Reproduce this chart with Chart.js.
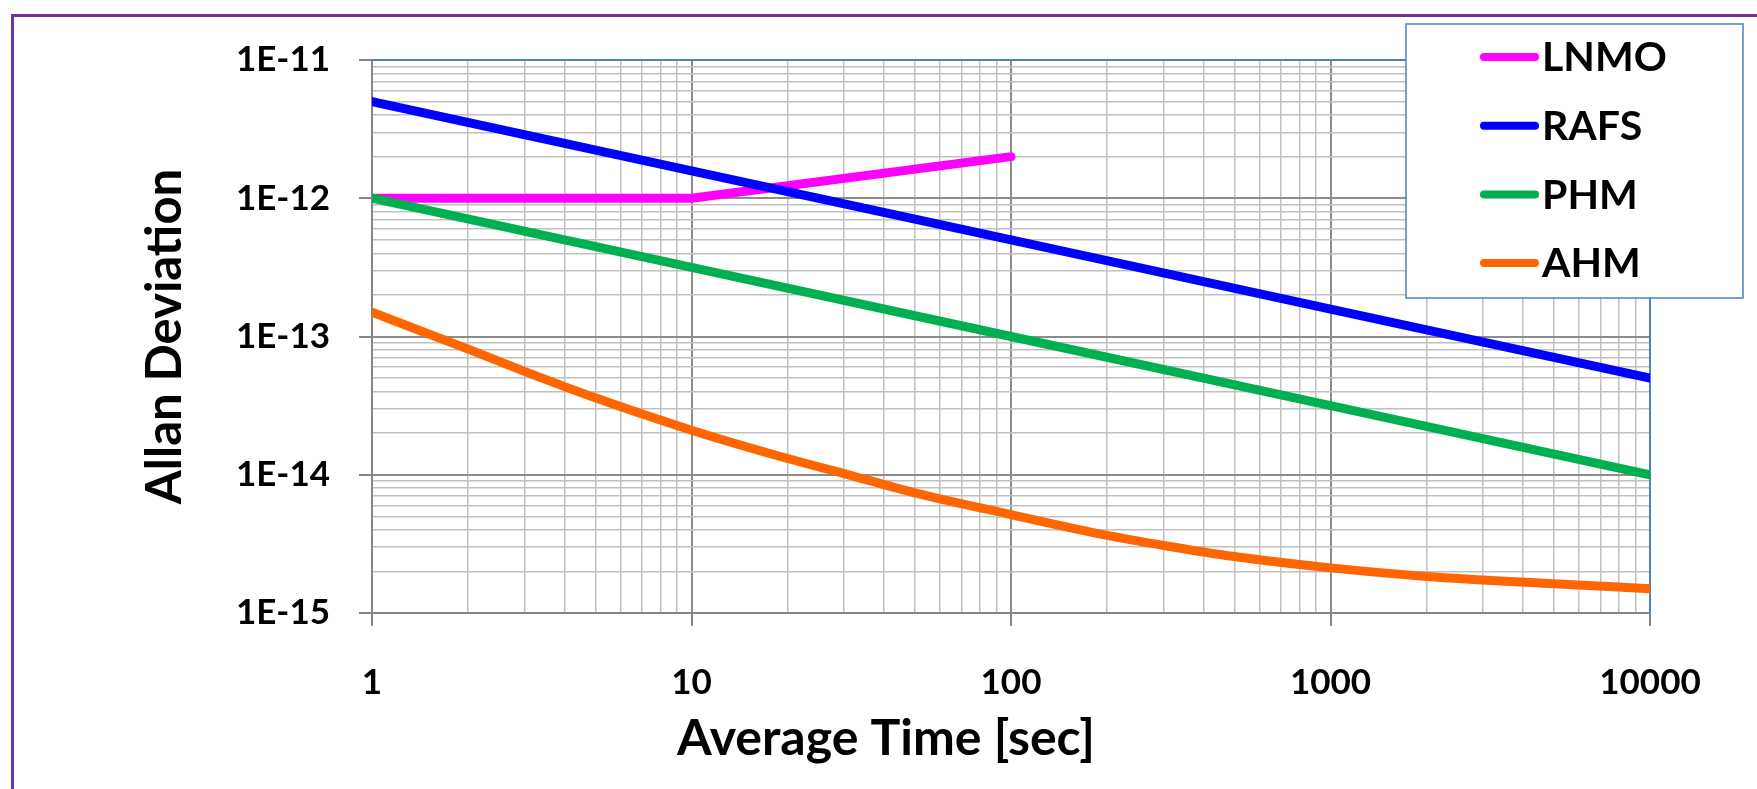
<!DOCTYPE html>
<html>
<head>
<meta charset="utf-8">
<script src="https://cdn.jsdelivr.net/npm/chart.js@4.4.1/dist/chart.umd.min.js"></script>
<style>
    html, body { margin: 0; padding: 0; background: #fff; overflow: hidden; }
    #moldura { position: absolute; left: 11px; top: 14px; width: 1900px; height: 900px; border: 3px solid #7030A0; box-sizing: border-box; }
    #grafico { position: absolute; left: 0; top: 0; }
</style>
</head>
<body>
<div id="moldura"></div>
<canvas id="grafico" width="1757" height="789"></canvas>
<script>
// ======================= DADOS =======================

const seriesNames = ['LNMO', 'RAFS', 'PHM', 'AHM'];
const seriesColors = ['#FF00FF', '#0000FF', '#00B050', '#FF6600'];

// LNMO só vai até 100 s
const tauLnmo = [1, 10, 100];
const lnmoValues = [1e-12, 1e-12, 2e-12];

// RAFS e PHM são retas no log-log, basta um ponto por década
const tauDecadas = [1, 10, 100, 1000, 10000];
const rafsValues = [5e-12, 1.58e-12, 5e-13, 1.58e-13, 5e-14];
const phmValues = [1e-12, 3.16e-13, 1e-13, 3.16e-14, 1e-14];

// AHM é curva, li mais pontos
const tauAhm = [1, 2, 3, 5, 10, 20, 30, 50, 100, 200, 300, 500, 1000, 2000, 5000, 10000];
const ahmValues = [1.5e-13, 8.1e-14, 5.6e-14, 3.6e-14, 2.1e-14, 1.31e-14, 1.02e-14, 7.4e-15,
    5.15e-15, 3.64e-15, 3.08e-15, 2.56e-15, 2.12e-15, 1.84e-15, 1.63e-15, 1.5e-15];

const xTickLabels = ['1', '10', '100', '1000', '10000'];
const yTickLabels = ['1E-15', '1E-14', '1E-13', '1E-12', '1E-11'];

const xAxisTitle = 'Average Time [sec]';
const yAxisTitle = 'Allan Deviation';

// ======================= HELPERS =======================

const pontos = (xs, ys) => xs.map((x, i) => ({ x, y: ys[i] }));

function ehDecada(v) {
    const l = Math.log10(v);
    return Math.abs(l - Math.round(l)) < 1e-9;
}

// grade do Excel: linha em 1..9 de cada década
function ticksDaGrade(labels) {
    const bases = labels.map(Number);
    const ticks = [];
    bases.forEach((b, i) => {
        if (i === bases.length - 1) {
            ticks.push({ value: b });
            return;
        }
        for (let m = 1; m <= 9; m++) ticks.push({ value: b * m });
    });
    return ticks;
}

function labelDaDecada(labels, value) {
    if (!ehDecada(value)) return '';
    const l = labels.find((t) => Math.abs(Math.log10(Number(t)) - Math.log10(value)) < 1e-9);
    return l || '';
}

const corGrade = (ctx) => (ctx.tick && ehDecada(ctx.tick.value) ? '#8C8C8C' : '#C0C0C0');
const larguraGrade = (ctx) => (ctx.tick && ehDecada(ctx.tick.value) ? 2 : 1.5);
const corTick = (ctx) => (ctx.tick && ehDecada(ctx.tick.value) ? '#868686' : 'rgba(0,0,0,0)');

// ======================= PLUGIN (borda, título X, legenda) =======================

const extrasPlugin = {
    id: 'extras',
    beforeDatasetsDraw(chart) {
        const { ctx, chartArea: a } = chart;
        ctx.save();
        ctx.strokeStyle = '#4F81BD';
        ctx.lineWidth = 2;
        ctx.beginPath();
        ctx.moveTo(a.left, a.top);
        ctx.lineTo(a.right, a.top);
        ctx.lineTo(a.right, a.bottom);
        ctx.stroke();
        ctx.restore();
    },
    afterDraw(chart) {
        const { ctx } = chart;
        ctx.save();

        // título do eixo X (no Excel fica centrado na figura, não no plot)
        ctx.fillStyle = '#000';
        ctx.font = 'bold 50px Lato';
        ctx.textAlign = 'center';
        ctx.textBaseline = 'middle';
        ctx.fillText(xAxisTitle, 886, 739);

        // legenda
        const box = { x: 1406, y: 24, w: 337, h: 274 };
        ctx.fillStyle = '#fff';
        ctx.fillRect(box.x, box.y, box.w, box.h);
        ctx.strokeStyle = '#4F81BD';
        ctx.lineWidth = 1.5;
        ctx.strokeRect(box.x, box.y, box.w, box.h);

        ctx.font = 'bold 41px Lato';
        ctx.textAlign = 'left';
        chart.data.datasets.forEach((ds, i) => {
            const y = 57 + i * 68.7;
            ctx.strokeStyle = ds.borderColor;
            ctx.lineWidth = 8;
            ctx.lineCap = 'round';
            ctx.beginPath();
            ctx.moveTo(1484, y);
            ctx.lineTo(1535, y);
            ctx.stroke();
            ctx.fillStyle = '#000';
            ctx.fillText(ds.label, 1542, y + 1);
        });
        ctx.restore();
    },
};

// ======================= GRÁFICO =======================

const allSeries = [
    pontos(tauLnmo, lnmoValues),
    pontos(tauDecadas, rafsValues),
    pontos(tauDecadas, phmValues),
    pontos(tauAhm, ahmValues),
];

Chart.defaults.font.family = 'Lato';
Chart.defaults.font.weight = 'bold';
Chart.defaults.color = '#000';

new Chart(document.getElementById('grafico').getContext('2d'), {
    type: 'line',
    data: {
        datasets: allSeries.map((data, i) => ({
            label: seriesNames[i],
            data,
            borderColor: seriesColors[i],
            backgroundColor: seriesColors[i],
            borderWidth: 9,
            borderCapStyle: 'round',
            borderJoinStyle: 'round',
            pointRadius: 0,
            tension: 0,
            cubicInterpolationMode: seriesNames[i] === 'AHM' ? 'monotone' : 'default',
            fill: false,
            clip: 0,
            order: allSeries.length - i, // última série por cima, como no Excel
        })),
    },
    options: {
        responsive: false,
        animation: false,
        devicePixelRatio: 1,
        layout: { padding: { left: 0, top: 60, right: 107, bottom: 0 } },
        plugins: {
            legend: { display: false },
            tooltip: { enabled: false },
        },
        scales: {
            x: {
                type: 'logarithmic',
                min: 1,
                max: 10000,
                afterBuildTicks: (scale) => { scale.ticks = ticksDaGrade(xTickLabels); },
                afterFit: (scale) => { scale.height = 176; },
                ticks: {
                    autoSkip: false,
                    maxRotation: 0,
                    padding: 36,
                    font: { size: 35, weight: 'bold' },
                    callback: (value) => labelDaDecada(xTickLabels, value),
                },
                grid: { color: corGrade, lineWidth: larguraGrade, tickColor: corTick, tickLength: 13, tickWidth: 2 },
                border: { color: '#868686', width: 2 },
            },
            y: {
                type: 'logarithmic',
                min: 1e-15,
                max: 1e-11,
                afterBuildTicks: (scale) => { scale.ticks = ticksDaGrade(yTickLabels); },
                afterFit: (scale) => { scale.width = 372; },
                ticks: {
                    autoSkip: false,
                    padding: 29,
                    font: { size: 35, weight: 'bold' },
                    callback: (value) => labelDaDecada(yTickLabels, value),
                },
                grid: { color: corGrade, lineWidth: larguraGrade, tickColor: corTick, tickLength: 13, tickWidth: 2 },
                border: { color: '#868686', width: 2 },
                title: {
                    display: true,
                    text: yAxisTitle,
                    font: { size: 49, weight: 'bold' },
                    padding: { top: 136, bottom: 0 },
                },
            },
        },
    },
    plugins: [extrasPlugin],
});
</script>
</body>
</html>
